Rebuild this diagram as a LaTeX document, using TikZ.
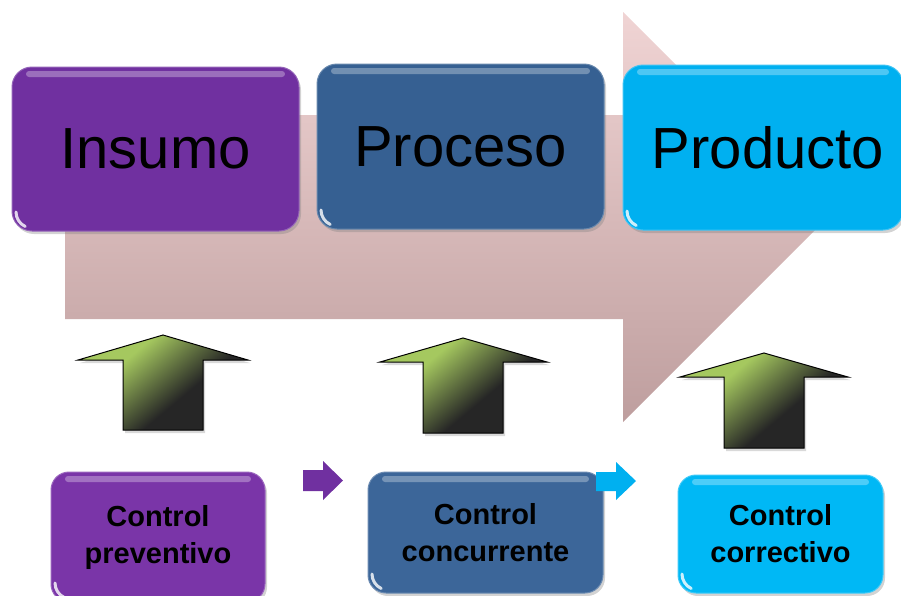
\documentclass[tikz,border=0pt]{standalone}
\usepackage{fontspec}
\setmainfont{Liberation Sans}
\usetikzlibrary{shadows}
\definecolor{insumocol}{RGB}{112,48,160}
\definecolor{procesocol}{RGB}{54,96,146}
\definecolor{productocol}{RGB}{0,176,240}
\definecolor{preventivocol}{RGB}{122,53,168}
\definecolor{concurrentecol}{RGB}{60,102,153}
\definecolor{correctivocol}{RGB}{0,184,245}
\definecolor{flowtop}{RGB}{240,212,212}
\definecolor{flowbottom}{RGB}{190,158,158}
\definecolor{upgreen}{RGB}{165,200,95}
\definecolor{updark}{RGB}{38,38,38}
\pgfdeclareverticalshading{upshade}{100bp}{color(0bp)=(updark); color(41bp)=(updark);
  color(66bp)=(upgreen); color(100bp)=(upgreen)}
\tikzset{
  boxbase/.style={rounded corners=20pt, fill=#1, draw=#1!75!white, line width=1pt,
    inner sep=0pt,
    drop shadow={shadow xshift=2pt, shadow yshift=-3pt, opacity=0.35},
    path picture={
      \fill[white, opacity=0.3, rounded corners=3pt]
        ([xshift=14pt,yshift=-4pt]path picture bounding box.north west) rectangle
        ([xshift=-14pt,yshift=-10pt]path picture bounding box.north east);
      \draw[white, opacity=0.8, line width=3pt, line cap=round]
        ([xshift=4pt,yshift=19pt]path picture bounding box.south west)
        arc[start angle=180, end angle=245, radius=16pt];
    }},
  topbox/.style={boxbase=#1, font=\fontsize{58}{60}\selectfont},
  ctrlbox/.style={boxbase=#1, rounded corners=18pt, align=center,
    font=\bfseries\fontsize{29}{37}\selectfont},
  uparrow/.style={draw=black, line width=1pt, shading=upshade, shading angle=40,
    drop shadow={shadow xshift=2pt, shadow yshift=-3pt, opacity=0.3}},
  stepmark/.style={fill=#1}
}
\begin{document}
\begin{tikzpicture}[x=1pt, y=-1pt]
  \useasboundingbox (0,0) rectangle (901,595);
  % flow arrow behind the boxes
  \shade[top color=flowtop, bottom color=flowbottom]
    (65,115) -- (623,115) -- (623,12) -- (828,217) -- (623,422) -- (623,319)
    -- (65,319) -- cycle;
  % stages
  \node[topbox=insumocol, minimum width=287pt, minimum height=164pt] (insumo)
    at (155.5,149) {Insumo};
  \node[topbox=procesocol, minimum width=287pt, minimum height=165pt] (proceso)
    at (460.5,146.5) {Proceso};
  \node[topbox=productocol, minimum width=280pt, minimum height=165pt] (producto)
    at (763,147.5) {\hspace*{10pt}Producto};
  % control arrows
  \draw[uparrow] (163,335) -- (248,360) -- (203,360) -- (203,430) -- (123,430)
    -- (123,360) -- (78,360) -- cycle;
  \draw[uparrow] (463,338) -- (547,362) -- (503,362) -- (503,433) -- (423,433)
    -- (423,362) -- (380,362) -- cycle;
  \draw[uparrow] (764,353) -- (848,377) -- (804,377) -- (804,448) -- (724,448)
    -- (724,377) -- (680,377) -- cycle;
  % controls
  \node[ctrlbox=preventivocol, minimum width=214pt, minimum height=130pt] (preventivo)
    at (158,537) {Control\\preventivo};
  \node[ctrlbox=concurrentecol, minimum width=235pt, minimum height=121pt] (concurrente)
    at (485.5,532.5) {Control\\concurrente};
  \node[ctrlbox=correctivocol, minimum width=205pt, minimum height=118pt] (correctivo)
    at (780.5,534) {Control\\correctivo};
  % small step arrows
  \fill[stepmark=insumocol] (303,470) -- (323,470) -- (323,461) -- (343,480.5)
    -- (323,500) -- (323,491) -- (303,491) -- cycle;
  \fill[stepmark=productocol] (596,472) -- (616,472) -- (616,462) -- (636,481)
    -- (616,500) -- (616,491) -- (596,491) -- cycle;
\end{tikzpicture}
\end{document}
